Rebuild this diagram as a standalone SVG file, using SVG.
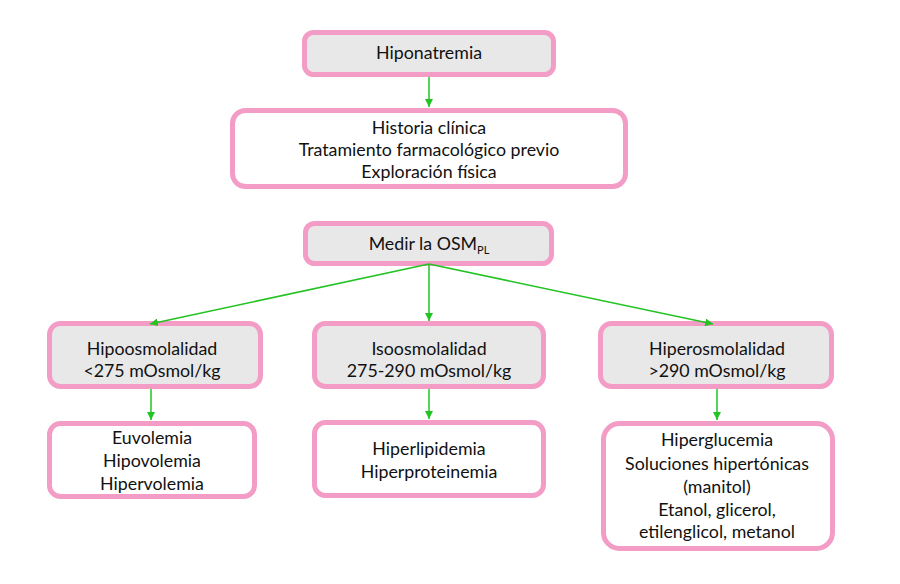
<svg xmlns="http://www.w3.org/2000/svg" width="900" height="584" viewBox="0 0 900 584">
<style>
.box{stroke:#f29cc6;stroke-width:5;}
.g{fill:#e8e8e8;}
.w{fill:#ffffff;}
text{font-family:Lato,"Liberation Sans",sans-serif;font-size:17.8px;fill:#111;text-anchor:middle;}
.c{stroke:#22c322;stroke-width:1.5;fill:none;}
</style>
<defs>
<marker id="ah" viewBox="0 0 10 10" refX="10" refY="5" markerWidth="8" markerHeight="8" markerUnits="userSpaceOnUse" orient="auto">
<path d="M0,0 L10,5 L0,10 z" fill="#22c322"/>
</marker>
</defs>
<rect width="900" height="584" fill="#ffffff"/>
<g id="hiponatremia">
<rect class="box g" x="304.5" y="32.5" width="249" height="42" rx="9"/>
<text x="429" y="59">Hiponatremia</text>
</g>
<g id="historia">
<rect class="box w" x="232.5" y="110.5" width="393" height="76" rx="13"/>
<text x="429" y="134">Historia clínica</text>
<text x="429" y="156">Tratamiento farmacológico previo</text>
<text x="429" y="178">Exploración física</text>
</g>
<g id="medir">
<rect class="box g" x="305.5" y="223.5" width="246" height="40" rx="9"/>
<text x="429" y="250">Medir la OSM<tspan font-size="11" dy="4">PL</tspan></text>
</g>
<g id="hipo">
<rect class="box g" x="49.5" y="323.5" width="211" height="63" rx="11"/>
<text x="152" y="355">Hipoosmolalidad</text>
<text x="152" y="377">&lt;275 mOsmol/kg</text>
</g>
<g id="iso">
<rect class="box g" x="314.5" y="323.5" width="229" height="63" rx="11"/>
<text x="429" y="355">Isoosmolalidad</text>
<text x="429" y="377">275-290 mOsmol/kg</text>
</g>
<g id="hiper">
<rect class="box g" x="600.5" y="323.5" width="231" height="63" rx="11"/>
<text x="717" y="355">Hiperosmolalidad</text>
<text x="717" y="377">&gt;290 mOsmol/kg</text>
</g>
<g id="volemia">
<rect class="box w" x="49.5" y="423.5" width="205" height="73" rx="11"/>
<text x="152" y="444">Euvolemia</text>
<text x="152" y="467">Hipovolemia</text>
<text x="152" y="490">Hipervolemia</text>
</g>
<g id="lipid">
<rect class="box w" x="314.5" y="422.5" width="229" height="73" rx="11"/>
<text x="429" y="455">Hiperlipidemia</text>
<text x="429" y="478">Hiperproteinemia</text>
</g>
<g id="gluc">
<rect class="box w" x="603.5" y="423.5" width="229" height="125" rx="16"/>
<text x="717" y="446">Hiperglucemia</text>
<text x="717" y="470">Soluciones hipertónicas</text>
<text x="717" y="493">(manitol)</text>
<text x="717" y="516">Etanol, glicerol,</text>
<text x="717" y="538">etilenglicol, metanol</text>
</g>
<g id="connectors">
<line class="c" x1="429" y1="77" x2="429" y2="107" marker-end="url(#ah)"/>
<line class="c" x1="429" y1="264" x2="150" y2="324" marker-end="url(#ah)"/>
<line class="c" x1="429" y1="264" x2="429" y2="321" marker-end="url(#ah)"/>
<line class="c" x1="429" y1="264" x2="713" y2="324" marker-end="url(#ah)"/>
<line class="c" x1="151" y1="389" x2="151" y2="420" marker-end="url(#ah)"/>
<line class="c" x1="429" y1="389" x2="429" y2="419" marker-end="url(#ah)"/>
<line class="c" x1="717" y1="389" x2="717" y2="420" marker-end="url(#ah)"/>
</g>
</svg>
